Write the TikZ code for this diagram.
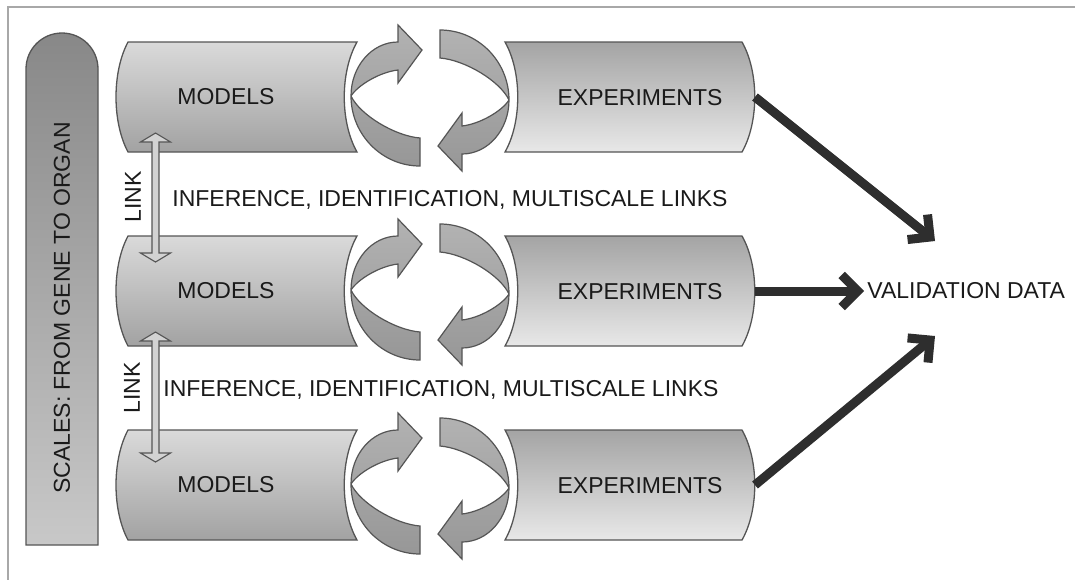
\documentclass[tikz,border=0pt]{standalone}
\usepackage{fontspec}
\setmainfont{Liberation Sans}
\usetikzlibrary{arrows.meta}
\definecolor{outl}{HTML}{555555}
\definecolor{framec}{HTML}{A8A8A8}
\definecolor{barTop}{HTML}{888888}
\definecolor{barBot}{HTML}{C8C8C8}
\definecolor{mTop}{HTML}{DADADA}
\definecolor{mBot}{HTML}{A2A2A2}
\definecolor{eTop}{HTML}{A4A4A4}
\definecolor{eBot}{HTML}{E8E8E8}
\definecolor{aTop}{HTML}{B2B2B2}
\definecolor{aBot}{HTML}{979797}
\definecolor{linkc}{HTML}{D2D2D2}
\definecolor{valc}{HTML}{2E2E2E}
\definecolor{txtc}{HTML}{1A1A1A}
\tikzset{
  box/.style={draw=outl, line width=0.65pt},
  txt/.style={inner sep=0pt, text=txtc},
  linkarr/.style={draw=outl, line width=0.55pt, fill=linkc},
  valarr/.style={draw=valc, line width=4.5pt, -{Straight Barb[length=8pt,width=16pt]}},
  rotarrow/.pic={
    \draw[draw=outl, line width=0.6pt, top color=aTop, bottom color=aBot,
          preaction={draw=white, line width=3pt}]
      (-10,40) -- (-10,68) .. controls (-48,68) and (-79,36.6) .. (-79,-2)
      .. controls (-79,-31.8) and (-58,-56) .. (-32,-56) -- (-32,-73) -- (-8,-48)
      -- (-32,-15) -- (-32,-28) .. controls (-50,-26) and (-72,-13) .. (-79,-2)
      .. controls (-70,17) and (-35,38) .. (-10,40) -- cycle;
  }
}
\begin{document}
\begin{tikzpicture}[x=0.5pt,y=-0.5pt,font=\fontsize{11.5}{13}\selectfont]
\useasboundingbox (0,0) rectangle (1075,580);
\fill[white] (0,0) rectangle (1075,580);
% frame
\draw[framec, line width=0.7pt] (1075,7) -- (8,7) -- (8,580);
% scales bar
\draw[box, top color=barTop, bottom color=barBot]
  (26,545) -- (26,69) .. controls (26,49.1) and (42.1,33) .. (62,33)
  .. controls (81.9,33) and (98,49.1) .. (98,69) -- (98,545) -- cycle;
\node[txt, rotate=90] (scales) at (62,308) {SCALES: FROM GENE TO ORGAN};
% rows
\foreach \c/\i in {97/1,291/2,485/3}{
  \draw[box, top color=mTop, bottom color=mBot]
    (128,\c-55) -- (357,\c-55) .. controls (340,\c-25) and (340,\c+25) .. (357,\c+55)
    -- (128,\c+55) .. controls (112,\c+25) and (112,\c-25) .. (128,\c-55) -- cycle;
  \draw[box, top color=eTop, bottom color=eBot]
    (505,\c-55) -- (742,\c-55) .. controls (759,\c-25) and (759,\c+25) .. (742,\c+55)
    -- (505,\c+55) .. controls (522,\c+25) and (522,\c-25) .. (505,\c-55) -- cycle;
  \pic at (430,\c+1) {rotarrow};
  \pic[rotate=180] at (430,\c+1) {rotarrow};
  \node[txt] (m\i) at (226,\c) {MODELS};
  \node[txt] (x\i) at (640,\c+1) {EXPERIMENTS};
  \coordinate (xe\i) at (755,\c);
}
% link arrows
\draw[linkarr] (155.5,133) -- (170.5,142) -- (159,142) -- (159,253) -- (170.5,253)
  -- (155.5,262) -- (140.5,253) -- (152,253) -- (152,142) -- (140.5,142) -- cycle;
\draw[linkarr] (155.5,332) -- (170.5,341) -- (159,341) -- (159,453) -- (170.5,453)
  -- (155.5,462) -- (140.5,453) -- (152,453) -- (152,341) -- (140.5,341) -- cycle;
\node[txt, rotate=90] (link1) at (133,197) {LINK};
\node[txt, rotate=90] (link2) at (132,388) {LINK};
\node[txt, anchor=west] (inf1) at (172,200) {INFERENCE, IDENTIFICATION, MULTISCALE LINKS};
\node[txt, anchor=west] (inf2) at (163,390) {INFERENCE, IDENTIFICATION, MULTISCALE LINKS};
% validation
\node[txt, inner xsep=1.5pt, anchor=west] (val) at (864,291) {VALIDATION DATA};
\coordinate (tip1) at (935,241);
\coordinate (tip3) at (935,336);
\draw[valarr] (xe1) -- (tip1);
\draw[valarr] (xe2) -- (val);
\draw[valarr] (xe3) -- (tip3);
\end{tikzpicture}
\end{document}
